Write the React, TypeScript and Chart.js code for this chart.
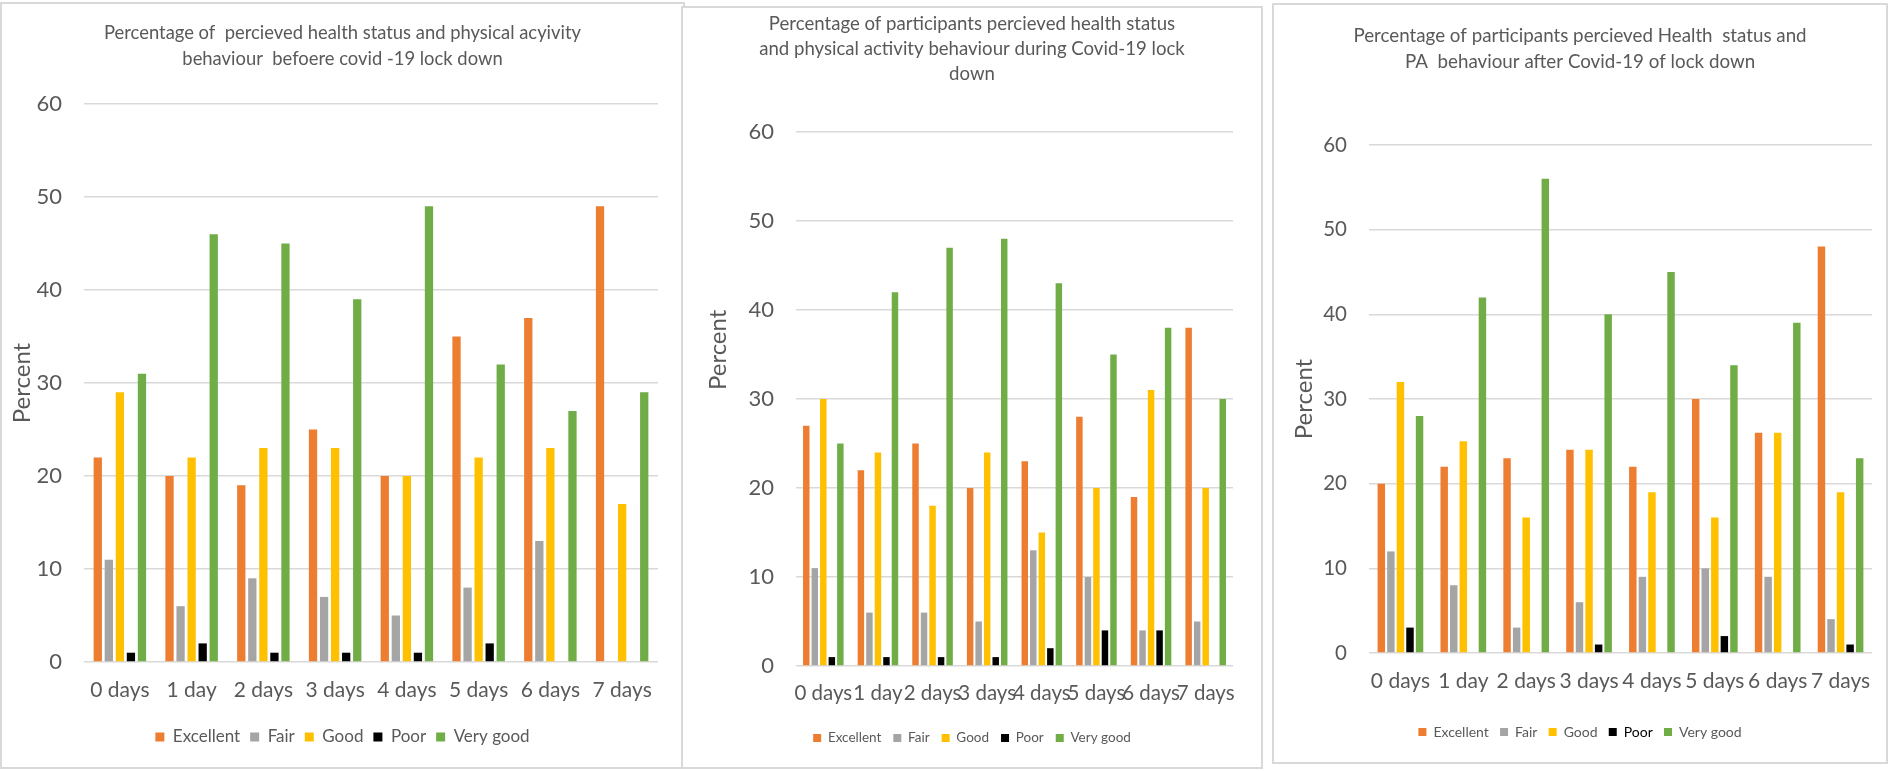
import { useEffect, useRef } from "react";
import { Chart, registerables } from "chart.js";

Chart.register(...registerables);

const days = ["0 days", "1 day", "2 days", "3 days", "4 days", "5 days", "6 days", "7 days"];
const ratings = ["Excellent", "Fair", "Good", "Poor", "Very good"];
const ratingColors = ["#ED7D31", "#A5A5A5", "#FFC000", "#000000", "#70AD47"];
const yTicks = [0, 10, 20, 30, 40, 50, 60];

// before lockdown
const beforeExcellent = [22, 20, 19, 25, 20, 35, 37, 49];
const beforeFair = [11, 6, 9, 7, 5, 8, 13, 0];
const beforeGood = [29, 22, 23, 23, 20, 22, 23, 17];
const beforePoor = [1, 2, 1, 1, 1, 2, 0, 0];
const beforeVeryGood = [31, 46, 45, 39, 49, 32, 27, 29];

// during lockdown
const duringExcellent = [27, 22, 25, 20, 23, 28, 19, 38];
const duringFair = [11, 6, 6, 5, 13, 10, 4, 5];
const duringGood = [30, 24, 18, 24, 15, 20, 31, 20];
const duringPoor = [1, 1, 1, 1, 2, 4, 4, 0];
const duringVeryGood = [25, 42, 47, 48, 43, 35, 38, 30];

// after lockdown
const afterExcellent = [20, 22, 23, 24, 22, 30, 26, 48];
const afterFair = [12, 8, 3, 6, 9, 10, 9, 4];
const afterGood = [32, 25, 16, 24, 19, 16, 26, 19];
const afterPoor = [3, 0, 0, 1, 0, 2, 0, 1];
const afterVeryGood = [28, 42, 56, 40, 45, 34, 39, 23];

const beforeTitle = [
  "Percentage of  percieved health status and physical acyivity",
  "behaviour  befoere covid -19 lock down",
];
const duringTitle = [
  "Percentage of participants percieved health status",
  "and physical activity behaviour during Covid-19 lock",
  "down",
];
const afterTitle = [
  "Percentage of participants percieved Health  status and",
  "PA  behaviour after Covid-19 of lock down",
];

const FONT = "Lato, 'Open Sans', sans-serif";
const TEXT = "#595959";
const GRID = "#D9D9D9";

type Layout = {
  left: number;
  top: number;
  width: number;
  height: number;
  titleSize: number;
  titleLine: number;
  titlePadTop: number;
  titlePadBottom: number;
  yWidth: number;
  yTickSize: number;
  yTitle: string;
  yTitlePad: number;
  padRight: number;
  padBottom: number;
  xHeight: number;
  xPad: number;
  xSize: number;
  legendSize: number;
  legendBox: number;
  legendPad: number;
  legendPoorColor: string;
  catPct: number;
  barPct: number;
};

const Panel = ({ title, series, layout }: { title: string[]; series: number[][]; layout: Layout }) => {
  const chartRef = useRef<HTMLCanvasElement | null>(null);

  useEffect(() => {
    if (!chartRef.current) return;
    const L = layout;
    const chart = new Chart(chartRef.current, {
      type: "bar",
      data: {
        labels: days,
        datasets: ratings.map((name, i) => ({
          label: name,
          data: series[i],
          backgroundColor: ratingColors[i],
          borderWidth: 0,
          categoryPercentage: L.catPct,
          barPercentage: L.barPct,
        })),
      },
      options: {
        responsive: false,
        animation: false,
        layout: { padding: { left: 0, top: 0, right: 0, bottom: L.padBottom } },
        plugins: {
          title: {
            display: true,
            text: title,
            color: TEXT,
            font: { family: FONT, size: L.titleSize, weight: "normal", lineHeight: L.titleLine / L.titleSize },
            padding: { top: L.titlePadTop, bottom: L.titlePadBottom },
          },
          legend: {
            position: "bottom",
            labels: {
              boxWidth: L.legendBox,
              boxHeight: L.legendBox,
              padding: L.legendPad,
              color: TEXT,
              font: { family: FONT, size: L.legendSize },
              generateLabels: (c: Chart) =>
                ratings.map((name, i) => ({
                  text: name,
                  fillStyle: ratingColors[i],
                  strokeStyle: ratingColors[i],
                  lineWidth: 0,
                  hidden: !c.isDatasetVisible(i),
                  datasetIndex: i,
                  fontColor: name === "Poor" ? L.legendPoorColor : TEXT,
                })),
            },
          },
          tooltip: { enabled: false },
        },
        scales: {
          x: {
            grid: { display: false, drawTicks: false },
            border: { display: false },
            ticks: { color: TEXT, padding: L.xPad, maxRotation: 0, autoSkip: false, font: { family: FONT, size: L.xSize } },
            afterFit: (s: any) => {
              s.height = L.xHeight;
            },
          },
          y: {
            min: 0,
            max: 60,
            grid: { color: GRID, lineWidth: 1.5, drawTicks: false },
            border: { display: false },
            ticks: { color: TEXT, padding: 22, font: { family: FONT, size: L.yTickSize } },
            afterBuildTicks: (s: any) => {
              s.ticks = yTicks.map((v) => ({ value: v }));
            },
            title: {
              display: true,
              text: L.yTitle,
              color: TEXT,
              font: { family: FONT, size: 24, lineHeight: 1.2 },
              padding: { top: L.yTitlePad, bottom: 0 },
            },
            afterFit: (s: any) => {
              s.width = L.yWidth;
            },
          },
          // empty right-hand spacer so the title and legend stay centred on the panel
          spacer: {
            type: "linear",
            position: "right",
            grid: { display: false, drawTicks: false },
            border: { display: false },
            ticks: { display: false },
            afterFit: (s: any) => {
              s.width = L.padRight;
            },
          },
        },
      },
    });

    return () => {
      chart.destroy();
    };
  }, [title, series, layout]);

  return (
    <>
      <div
        style={{
          position: "absolute",
          left: layout.left,
          top: layout.top,
          width: layout.width,
          height: layout.height,
          border: "2px solid #D9D9D9",
          boxSizing: "border-box",
          background: "#fff",
        }}
      />
      <canvas
        ref={chartRef}
        width={layout.width}
        height={layout.height}
        style={{ position: "absolute", left: layout.left, top: layout.top, width: layout.width, height: layout.height }}
      />
    </>
  );
};

const beforeLayout: Layout = {
  left: 0, top: 2, width: 685, height: 767,
  titleSize: 18.4, titleLine: 26, titlePadTop: 18, titlePadBottom: 32,
  yWidth: 84, yTickSize: 22, yTitle: "Percent", yTitlePad: 7.6,
  padRight: 27, padBottom: 13.5, xHeight: 56.5, xPad: 15.5, xSize: 21,
  legendSize: 17, legendBox: 9, legendPad: 10, legendPoorColor: TEXT,
  catPct: 0.77, barPct: 0.75,
};

const duringLayout: Layout = {
  left: 681, top: 6, width: 582, height: 763,
  titleSize: 18.6, titleLine: 25, titlePadTop: 5.5, titlePadBottom: 45.5,
  yWidth: 115, yTickSize: 22, yTitle: "                Percent", yTitlePad: 22.6,
  padRight: 30, padBottom: 14.25, xHeight: 53.25, xPad: 15.5, xSize: 20.5,
  legendSize: 13.5, legendBox: 8, legendPad: 12, legendPoorColor: TEXT,
  catPct: 0.78, barPct: 0.76,
};

const afterLayout: Layout = {
  left: 1272, top: 3, width: 616, height: 761,
  titleSize: 18.75, titleLine: 26, titlePadTop: 20, titlePadBottom: 70,
  yWidth: 97, yTickSize: 20.5, yTitle: "Percent", yTitlePad: 17.6,
  padRight: 16, padBottom: 15, xHeight: 60.75, xPad: 15.5, xSize: 21,
  legendSize: 14, legendBox: 8, legendPad: 11.25, legendPoorColor: "#000000",
  catPct: 0.76, barPct: 0.78,
};

const beforeSeries = [beforeExcellent, beforeFair, beforeGood, beforePoor, beforeVeryGood];
const duringSeries = [duringExcellent, duringFair, duringGood, duringPoor, duringVeryGood];
const afterSeries = [afterExcellent, afterFair, afterGood, afterPoor, afterVeryGood];

export default function App() {
  return (
    <div style={{ position: "fixed", left: 0, top: 0, width: 1892, height: 771, background: "#fff", overflow: "hidden" }}>
      <Panel title={beforeTitle} series={beforeSeries} layout={beforeLayout} />
      <Panel title={duringTitle} series={duringSeries} layout={duringLayout} />
      <Panel title={afterTitle} series={afterSeries} layout={afterLayout} />
    </div>
  );
}
